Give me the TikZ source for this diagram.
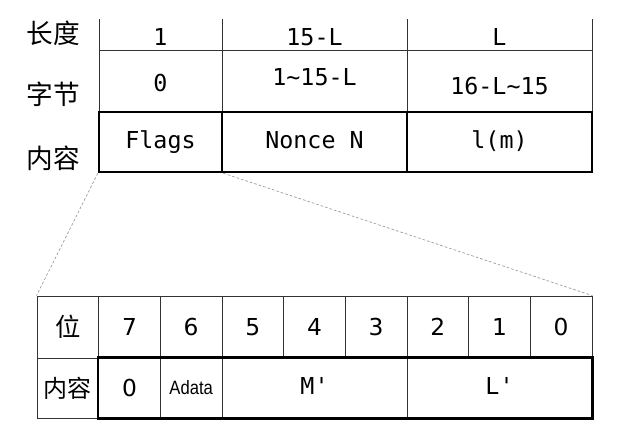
\documentclass[tikz,border=0pt]{standalone}
\usepackage{fontspec}
\setmainfont{DejaVu Sans}
\setmonofont{DejaVu Sans Mono}
\newfontfamily\cjk{Noto Sans CJK SC}
\newfontfamily\narrowsf{Liberation Sans}

\tikzset{
  rowlabel/.style={font=\cjk\fontsize{20}{20}\selectfont},
  mono/.style={font=\ttfamily\fontsize{17.5}{17.5}\selectfont},
  evenmono/.style={mono, text height=12.5pt, text depth=3.5pt},
  bitnum/.style={font=\fontsize{17.5}{17.5}\selectfont},
  cell/.style 2 args={draw=black!80, line width=0.6pt, inner sep=0pt,
    minimum width=#1*0.75pt, minimum height=#2*0.75pt},
  heavy/.style={draw=black, line width=1.8pt},
  zoomline/.style={draw=black!40, line width=0.5pt, dash pattern=on 2pt off 1.5pt}
}

\begin{document}
\begin{tikzpicture}[x=0.75pt, y=-0.75pt]
  \useasboundingbox (0,0) rectangle (627,447);

  \node [rowlabel] (lenlbl) at (53,33) {长度};
  \node [rowlabel] (bytelbl) at (53,94) {字节};
  \node [rowlabel] (contlbl) at (53,158) {内容};

  \foreach \x in {99,222,407,592}
    \draw [black!80, line width=0.6pt] (\x,19) -- (\x,50);
  \node [mono] (len1) at (160.5,37) {1};
  \node [mono] (len2) at (314.5,37) {15-L};
  \node [mono] (len3) at (499.5,37) {L};

  \node [cell={123}{62}] (byte1) at (160.5,81) {};
  \node [cell={185}{62}] (byte2) at (314.5,81) {};
  \node [cell={185}{62}] (byte3) at (499.5,81) {};
  \node [mono] at (160.5,83) {0};
  \node [mono] at (314.5,77) {1\char`\~15-L};
  \node [mono] at (499.5,86) {16-L\char`\~15};

  \node [cell={123}{60}, heavy, evenmono] (flags) at (160.5,142) {Flags};
  \node [cell={185}{60}, heavy, evenmono] (nonce) at (314.5,142) {Nonce N};
  \node [cell={185}{60}, heavy, evenmono] (lenm) at (499.5,142) {l(m)};

  \node [cell={61.67}{62}, font=\cjk\fontsize{19}{19}\selectfont] (bitlbl) at (67.8,327) {位};
  \foreach \b [count=\i] in {7,6,5,4,3,2,1,0}
    \node [cell={61.67}{62}, bitnum] (bit\b) at (67.8+\i*61.67,327) {\b};

  \node [cell={61.67}{60}, font=\cjk\fontsize{18}{18}\selectfont] (contlbl2) at (67.8,388) {内容};
  \node [cell={61.67}{60}, bitnum] (zero) at (129.5,388) {0};
  \node [cell={61.67}{60}, font=\narrowsf\fontsize{14.5}{14.5}\selectfont] (adata) at (191.2,388) {\scalebox{0.86}[1]{Adata}};
  \node [cell={185}{60}, evenmono] (mprime) at (314.5,388) {M'};
  \node [cell={185}{60}, evenmono] (lprime) at (499.5,388) {L'};
  \draw [heavy] (zero.north west) rectangle (lprime.south east);

  \draw [zoomline] (flags.south west) -- (bitlbl.north west);
  \draw [zoomline] (flags.south east) -- (bit0.north east);
\end{tikzpicture}
\end{document}
